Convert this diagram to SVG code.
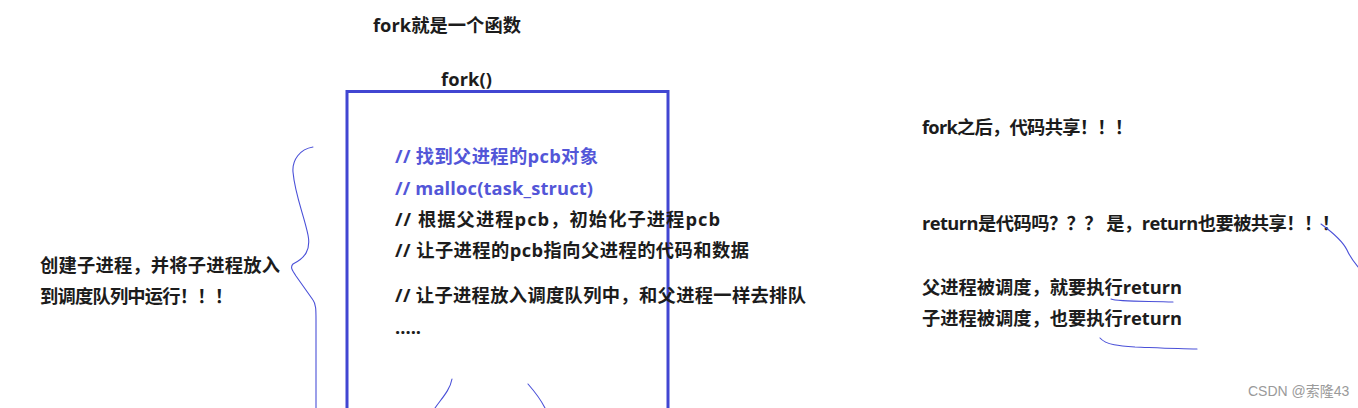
<svg xmlns="http://www.w3.org/2000/svg" width="1358" height="408" viewBox="0 0 1358 408">
<style>
text{font-family:"Open Sans","Noto Sans CJK SC",sans-serif;font-weight:bold;font-size:18.3px;fill:#1c1c1c}
.blue{fill:#5356d8}
.ink{fill:none;stroke:#4a50d8;stroke-width:1.1;stroke-linecap:round;stroke-linejoin:round}
.wm{font-weight:normal;font-size:14px;fill:#9a9a9a;font-family:"Liberation Sans","Noto Sans CJK SC",sans-serif}
</style>
<rect width="1358" height="408" fill="#ffffff"/>
<g id="title"><text x="373" y="32" textLength="148" lengthAdjust="spacing">fork就是一个函数</text></g>
<g id="fork-box">
<rect x="347" y="91.5" width="321" height="340" fill="none" stroke="#4146d2" stroke-width="3"/>
<text x="441" y="86" textLength="51" lengthAdjust="spacing">fork()</text>
<text class="blue" x="395" y="163" textLength="203" lengthAdjust="spacing">// 找到父进程的pcb对象</text>
<text class="blue" x="395" y="195" textLength="198" lengthAdjust="spacing">// malloc(task_struct)</text>
<text x="395" y="226" textLength="325" lengthAdjust="spacing">// 根据父进程pcb，初始化子进程pcb</text>
<text x="395" y="257" textLength="354" lengthAdjust="spacing">// 让子进程的pcb指向父进程的代码和数据</text>
<text x="395" y="302" textLength="411" lengthAdjust="spacing">// 让子进程放入调度队列中，和父进程一样去排队</text>
<text x="395" y="334">.....</text>
</g>
<g id="left-note">
<text x="40" y="272" textLength="240" lengthAdjust="spacing">创建子进程，并将子进程放入</text>
<text x="40" y="303" textLength="193" lengthAdjust="spacing">到调度队列中运行！！！</text>
</g>
<g id="right-notes">
<text x="922" y="134" textLength="211" lengthAdjust="spacing">fork之后，代码共享！！！</text>
<text x="922" y="230" textLength="418" lengthAdjust="spacing">return是代码吗？？？ 是，return也要被共享！！！</text>
<text x="922" y="294" textLength="260" lengthAdjust="spacing">父进程被调度，就要执行return</text>
<text x="922" y="325" textLength="260" lengthAdjust="spacing">子进程被调度，也要执行return</text>
</g>
<g id="connectors">
<path class="ink" d="M313,147 C300,149 292,160 293,172 C295,195 304,215 308,235 C311,250 305,258 293,264 C290,267 292,270 296,276 L313,300 C316,304 316,310 316,320 L316,408"/>
<path class="ink" d="M452,379 C450,390 442,398 435,408"/>
<path class="ink" d="M528,384 C535,392 541,400 545,408"/>
<path class="ink" d="M1321,224 C1332,232 1342,240 1347,250 C1350,257 1354,262 1358,267"/>
<path class="ink" d="M1111,299 C1118,302 1150,301 1173,302"/>
<path class="ink" d="M1100,338 C1106,345 1120,346 1135,347 C1160,348 1180,349 1197,349"/>
</g>
<text class="wm" x="1248" y="396">CSDN @索隆43</text>
</svg>
